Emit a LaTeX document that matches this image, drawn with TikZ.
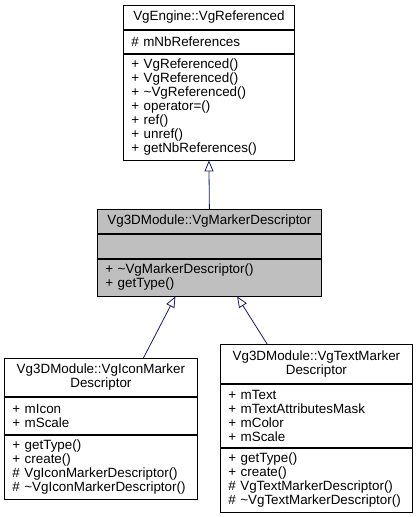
\documentclass[tikz,border=0pt]{standalone}
\usepackage{fontspec}
\setmainfont{Liberation Sans}
\usetikzlibrary{arrows.meta}

\definecolor{edgeblue}{HTML}{191970}
\definecolor{basegray}{HTML}{BFBFBF}
\newcommand{\umlfont}{\fontsize{13.4}{14}\selectfont}
\tikzstyle{part}=[draw=black,line width=0.8pt,anchor=north west,inner xsep=8pt,inner ysep=0pt,font=\umlfont,align=left]
\tikzstyle{classname}=[part,align=center]
\tikzstyle{inherit}=[draw=edgeblue,line width=0.8pt,-{Triangle[open,length=11pt,width=9pt]}]

\begin{document}
\begin{tikzpicture}[x=1pt,y=-1pt]
    \useasboundingbox (0,0) rectangle (419,517);
    % First the base class VgReferenced
    \node[classname,text width=155pt,minimum height=24pt] (refT) at (123,5) {VgEngine::VgReferenced};
    \node[part,text width=155pt,minimum height=23pt] (refA) at (refT.south west) {\# mNbReferences};
    \node[part,text width=155pt,minimum height=106pt] (refM) at (refA.south west)
        {+ VgReferenced()\\+ VgReferenced()\\+ \textasciitilde VgReferenced()\\+ operator=()\\+ ref()\\+ unref()\\+ getNbReferences()};
    % The marker descriptor (highlighted)
    \node[classname,fill=basegray,text width=208pt,minimum height=24pt] (markT) at (97,209) {Vg3DModule::VgMarkerDescriptor};
    \node[part,fill=basegray,text width=208pt,minimum height=24pt] (markA) at (markT.south west) {};
    \node[part,fill=basegray,text width=208pt,minimum height=37pt] (markM) at (markA.south west)
        {+ \textasciitilde VgMarkerDescriptor()\\+ getType()};
    % The two derived descriptors
    \node[classname,text width=177pt,minimum height=38pt] (iconT) at (4,358) {Vg3DModule::VgIconMarker\\Descriptor};
    \node[part,text width=177pt,minimum height=37pt] (iconA) at (iconT.south west) {+ mIcon\\+ mScale};
    \node[part,text width=177pt,minimum height=64pt] (iconM) at (iconA.south west)
        {+ getType()\\+ create()\\\# VgIconMarkerDescriptor()\\\# \textasciitilde VgIconMarkerDescriptor()};
    \node[classname,text width=176pt,minimum height=39pt] (textT) at (220,344) {Vg3DModule::VgTextMarker\\Descriptor};
    \node[part,text width=176pt,minimum height=63pt] (textA) at (textT.south west)
        {+ mText\\+ mTextAttributesMask\\+ mColor\\+ mScale};
    \node[part,text width=176pt,minimum height=64pt] (textM) at (textA.south west)
        {+ getType()\\+ create()\\\# VgTextMarkerDescriptor()\\\# \textasciitilde VgTextMarkerDescriptor()};
    % Inheritance edges
    \foreach \source/\sx/\dest/\dx in {markT/0/refM/0, iconT/42.5/markM/-34, textT/-49.3/markM/27.7}
        \path[inherit] ([xshift=\sx pt]\source.north) -- ([xshift=\dx pt]\dest.south);
\end{tikzpicture}
\end{document}
